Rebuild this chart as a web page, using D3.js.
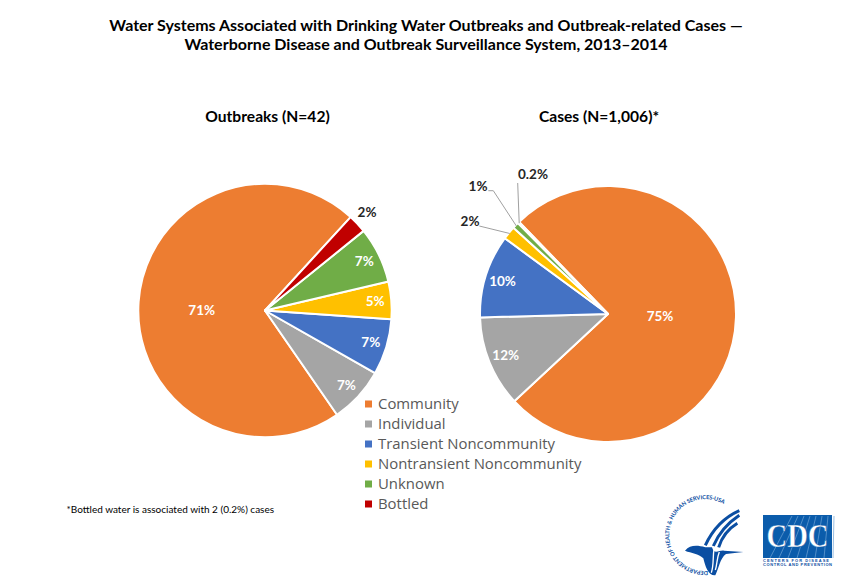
<!DOCTYPE html>
<html>
<head>
<meta charset="utf-8">
<script src="https://cdn.jsdelivr.net/npm/d3@7"></script>
<style>
	html, body { margin: 0; padding: 0; background: #fff; }
	svg { display: block; }
	text { font-family: Lato, "Open Sans", sans-serif; }
	.title { font-size: 16px; font-weight: 700; fill: #000; text-anchor: middle; }
	.pie-title { font-size: 15.6px; font-weight: 700; fill: #000; text-anchor: middle; }
	.pct { font-size: 13.5px; font-weight: 700; text-anchor: middle; }
	.legend text { font-family: "Open Sans", sans-serif; font-size: 14.9px; fill: #595959; }
	.note { font-size: 10px; fill: #000; }
</style>
</head>
<body>
<div id="chart"></div>
<script>
// Data
const categories = ["Community", "Individual", "Transient Noncommunity", "Nontransient Noncommunity", "Unknown", "Bottled"];
const colors = ["#ed7d31", "#a5a5a5", "#4472c4", "#ffc000", "#70ad47", "#c00000"];
const outbreakCounts = [30, 3, 3, 2, 3, 1];
const outbreakLabels = ["71%", "7%", "7%", "5%", "7%", "2%"];
const casePercents = [75.3, 11.5, 10.5, 1.7, 0.8, 0.2];
const caseLabels = ["75%", "12%", "10%", "2%", "1%", "0.2%"];
const titleLines = [
	"Water Systems Associated with Drinking Water Outbreaks and Outbreak-related Cases \u2014",
	"Waterborne Disease and Outbreak Surveillance System, 2013\u20132014",
];

const width = 849;
const height = 587;
const deg = Math.PI / 180;

const svg = d3
	.select("#chart")
	.append("svg")
	.attr("width", width)
	.attr("height", height)
	.attr("viewBox", `0 0 ${width} ${height}`);

svg.selectAll("text.title")
	.data(titleLines)
	.enter()
	.append("text")
	.attr("class", "title")
	.attr("x", 426)
	.attr("y", (d, i) => 31 + i * 19)
	.text((d) => d);

svg.append("text").attr("class", "pie-title").attr("x", 267.5).attr("y", 122).text("Outbreaks (N=42)");
svg.append("text").attr("class", "pie-title").attr("x", 599).attr("y", 122).text("Cases (N=1,006)*");

function drawPie(values, labels, opts) {
	const pie = d3.pie().sort(null).startAngle(opts.start * deg).endAngle((opts.start + opts.sweep) * deg);
	const arc = d3.arc().innerRadius(0).outerRadius(opts.radius);
	const slices = pie(values);
	const g = svg.append("g").attr("transform", `translate(${opts.cx},${opts.cy})`);

	g.selectAll("path")
		.data(slices)
		.enter()
		.append("path")
		.attr("d", arc)
		.attr("fill", (d, i) => colors[i])
		.attr("stroke", "#fff")
		.attr("stroke-width", 2)
		.attr("stroke-linejoin", "round");

	// inside labels sit near the rim, the big slice has its own spot
	slices.forEach((s, i) => {
		if (opts.outside[i]) return;
		const mid = (s.startAngle + s.endAngle) / 2;
		const x = i === 0 ? opts.bigLabel.x - opts.cx : Math.sin(mid) * 110.5;
		const y = i === 0 ? opts.bigLabel.y - opts.cy : -Math.cos(mid) * 110.5;
		g.append("text")
			.attr("class", "pct")
			.attr("x", x)
			.attr("y", y + 4.5)
			.attr("fill", "#fff")
			.text(labels[i]);
	});

	slices.forEach((s, i) => {
		const o = opts.outside[i];
		if (!o) return;
		if (o.line) {
			const mid = (s.startAngle + s.endAngle) / 2;
			const r = opts.radius - 1;
			const pts = [[Math.sin(mid) * r, -Math.cos(mid) * r]].concat(
				o.line.map((p) => [p[0] - opts.cx, p[1] - opts.cy])
			);
			g.append("path")
				.attr("d", d3.line()(pts))
				.attr("fill", "none")
				.attr("stroke", "#a0a0a0")
				.attr("stroke-width", 1);
		}
		g.append("text")
			.attr("class", "pct")
			.attr("x", o.x - opts.cx)
			.attr("y", o.y - opts.cy)
			.attr("fill", "#262626")
			.text(labels[i]);
	});
}

// left pie runs counter-clockwise, right pie clockwise
drawPie(outbreakCounts, outbreakLabels, {
	cx: 265,
	cy: 310.5,
	radius: 126.7,
	start: 402.5,
	sweep: -360,
	bigLabel: { x: 201.7, y: 310 },
	outside: [null, null, null, null, null, { x: 367, y: 217 }],
});

drawPie(casePercents, caseLabels, {
	cx: 608,
	cy: 314,
	radius: 128,
	start: -44,
	sweep: 360,
	bigLabel: { x: 660, y: 316 },
	outside: [
		null,
		null,
		null,
		{ x: 470, y: 226, line: [[479.3, 226]] },
		{ x: 478, y: 191, line: [[493.3, 190.7], [488.3, 190.7]] },
		{ x: 533, y: 179, line: [[517.7, 183]] },
	],
});

// Legend
const legend = svg.append("g").attr("class", "legend");
const legendRow = d3.scalePoint().domain(categories).range([404, 504]);
categories.forEach((c, i) => {
	legend.append("rect")
		.attr("x", 365)
		.attr("y", legendRow(c) - 3.5)
		.attr("width", 7)
		.attr("height", 7)
		.attr("fill", colors[i]);
	legend.append("text")
		.attr("x", 378)
		.attr("y", legendRow(c) + 5)
		.text(c);
});

svg.append("text").attr("class", "note").attr("x", 66.5).attr("y", 512.5).text("*Bottled water is associated with 2 (0.2%) cases");

// HHS logo, drawn at 3x and scaled down
const hhs = svg.append("g").attr("transform", "translate(640,490) scale(0.3333)");
hhs.append("defs")
	.append("path")
	.attr("id", "hhsRing")
	.attr("d", "M 204 243 A 108 108 0 1 1 258 47");
hhs.append("text")
	.attr("font-family", "Liberation Serif")
	.attr("font-size", 17)
	.attr("font-weight", 700)
	.attr("fill", "#0b4ea2")
	.append("textPath")
	.attr("href", "#hhsRing")
	.attr("textLength", 405)
	.text("DEPARTMENT OF HEALTH & HUMAN SERVICES\u00b7USA");
const wings = [
	"M 298 62 C 262 78 222 110 196 166",
	"M 298 76 C 268 96 240 122 220 168",
	"M 292 100 C 266 116 246 140 236 172",
];
hhs.selectAll("path.wing")
	.data(wings)
	.enter()
	.append("path")
	.attr("class", "wing")
	.attr("d", (d) => d)
	.attr("fill", "none")
	.attr("stroke", "#0b4ea2")
	.attr("stroke-width", 9);
hhs.append("path")
	.attr("d", "M 135 182 C 150 165 170 165 196 172 L 216 172 C 222 195 236 180 252 182 L 310 186 L 258 192 C 240 205 236 235 226 256 C 205 258 196 230 190 205 C 175 190 155 190 135 182 Z")
	.attr("fill", "#0b4ea2");
hhs.append("path")
	.attr("d", "M 222 178 C 218 200 222 225 214 248 M 238 186 C 230 205 232 222 226 240")
	.attr("fill", "none")
	.attr("stroke", "#fff")
	.attr("stroke-width", 4);

// CDC logo
const cdc = svg.append("g");
cdc.append("rect").attr("x", 763).attr("y", 515).attr("width", 69).attr("height", 43).attr("fill", "#0b5cab");
d3.range(8).forEach((i) => {
	cdc.append("line")
		.attr("x1", 770 + i * 9)
		.attr("y1", 558)
		.attr("x2", 792 + i * 6)
		.attr("y2", 516)
		.attr("stroke", "#6fa3d6")
		.attr("stroke-width", 0.7);
});
cdc.append("text")
	.attr("x", 797.5)
	.attr("y", 547)
	.attr("text-anchor", "middle")
	.attr("font-size", 33)
	.attr("font-weight", 700)
	.attr("fill", "#fff")
	.attr("stroke", "#0b5cab")
	.attr("stroke-width", 0.4)
	.style("font-family", "Liberation Serif")
	.attr("textLength", 62)
	.attr("lengthAdjust", "spacingAndGlyphs")
	.text("CDC");
["CENTERS FOR DISEASE", "CONTROL AND PREVENTION"].forEach((t, i) => {
	cdc.append("text")
		.attr("x", 763)
		.attr("y", 561.5 + i * 4.5)
		.attr("font-size", 4)
		.attr("font-weight", 700)
		.attr("fill", "#0b4ea2")
		.attr("textLength", i ? 69 : 66)
		.style("font-family", "Liberation Sans")
		.text(t);
});
</script>
</body>
</html>
